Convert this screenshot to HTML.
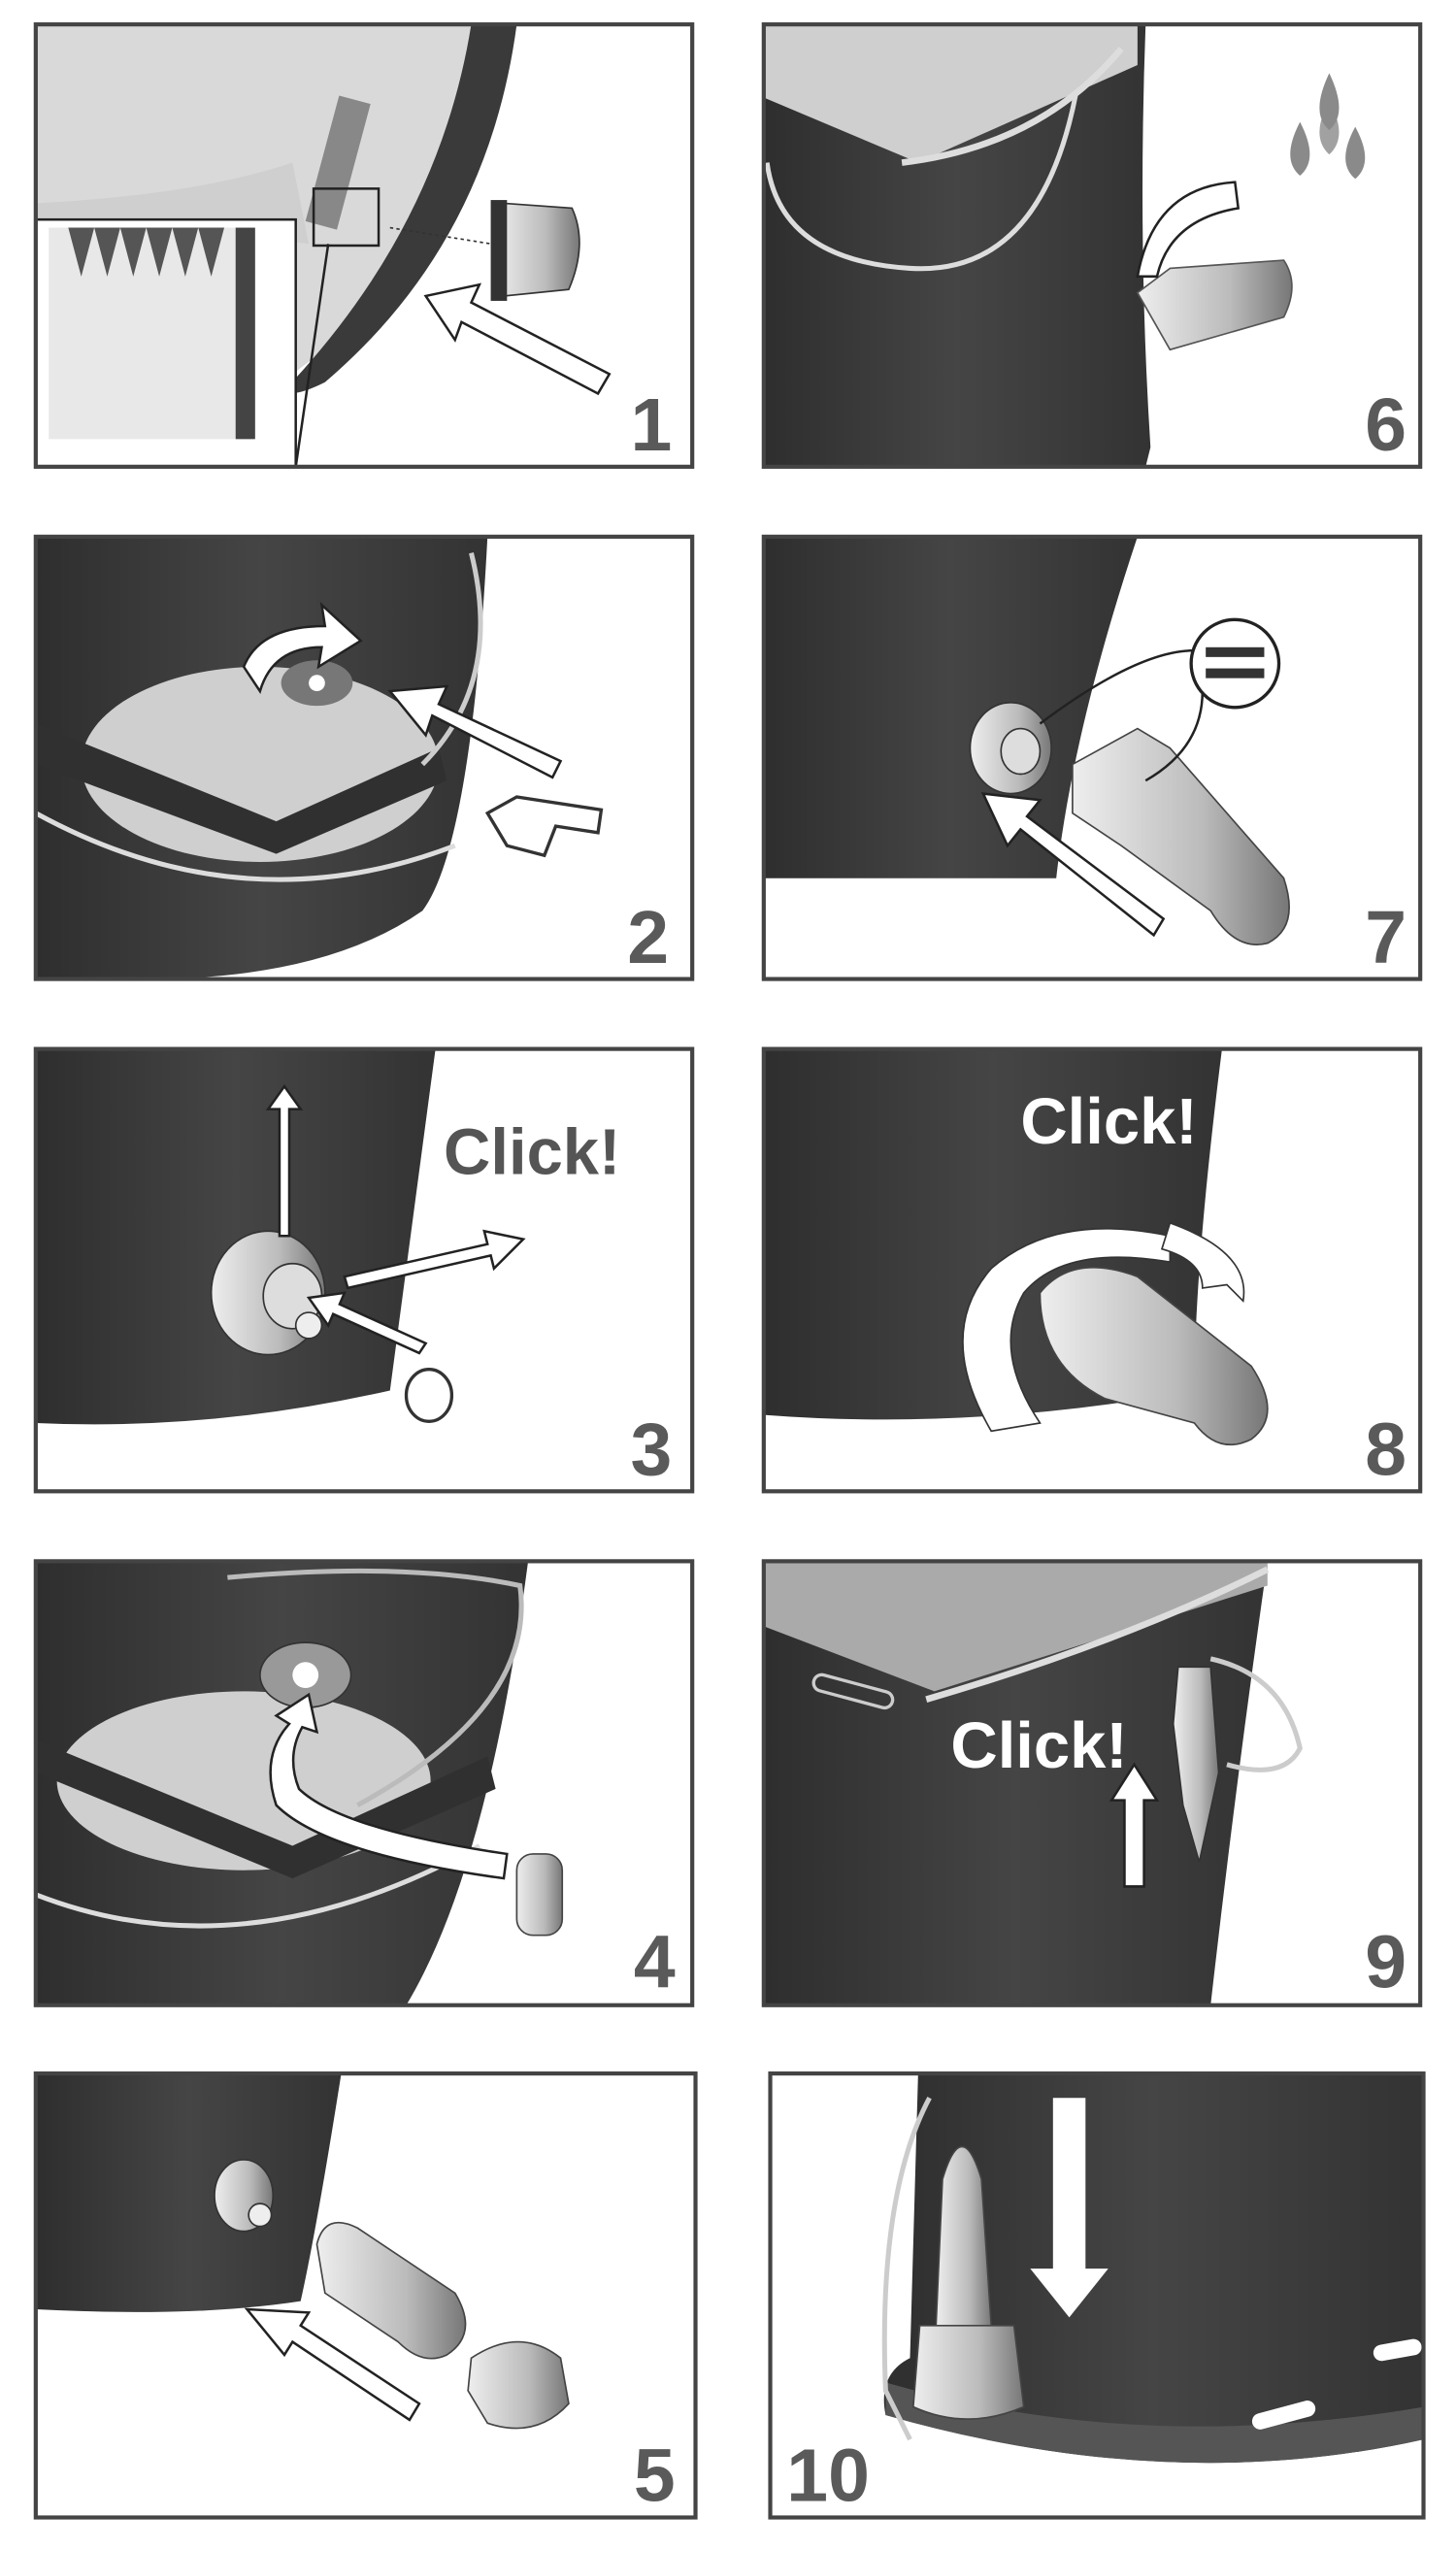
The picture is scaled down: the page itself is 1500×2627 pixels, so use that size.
<!DOCTYPE html>
<html><head><meta charset="utf-8"><style>
html,body{margin:0;padding:0;background:#fff}
svg{display:block}
.n{font-family:"Liberation Sans",sans-serif;font-weight:bold;fill:#5a5a5a;font-size:46px}
.c{font-family:"Liberation Sans",sans-serif;font-weight:bold;font-size:40px}
.fr{fill:none;stroke:#444;stroke-width:2.5}
.ar{fill:#fff;stroke:#222;stroke-width:1.5}
</style></head><body>
<svg width="1500" height="2627" viewBox="0 0 896 1568" preserveAspectRatio="none" xmlns="http://www.w3.org/2000/svg">
<defs>
<linearGradient id="dk" x1="0" x2="1"><stop offset="0" stop-color="#2e2e2e"/><stop offset=".5" stop-color="#454545"/><stop offset="1" stop-color="#333"/></linearGradient>
<linearGradient id="gr" x1="0" x2="1"><stop offset="0" stop-color="#eee"/><stop offset=".6" stop-color="#bbb"/><stop offset="1" stop-color="#777"/></linearGradient>
<clipPath id="p1"><rect x="22" y="15" width="404" height="272"/></clipPath>
<clipPath id="p2"><rect x="22" y="330" width="404" height="272"/></clipPath>
<clipPath id="p3"><rect x="22" y="645" width="404" height="272"/></clipPath>
<clipPath id="p4"><rect x="22" y="960" width="404" height="273"/></clipPath>
<clipPath id="p5"><rect x="22" y="1275" width="406" height="273"/></clipPath>
<clipPath id="p6"><rect x="470" y="15" width="404" height="272"/></clipPath>
<clipPath id="p7"><rect x="470" y="330" width="404" height="272"/></clipPath>
<clipPath id="p8"><rect x="470" y="645" width="404" height="272"/></clipPath>
<clipPath id="p9"><rect x="470" y="960" width="404" height="273"/></clipPath>
<clipPath id="p10"><rect x="474" y="1275" width="402" height="273"/></clipPath>
</defs>

<!-- Panel 1 -->
<g clip-path="url(#p1)">
<rect x="22" y="15" width="404" height="272" fill="#fff"/>
<path d="M22 15 H300 Q280 130 200 215 L180 230 L22 140 Z" fill="#d9d9d9"/>
<path d="M290 15 H318 Q300 150 200 235 Q180 245 175 240 Q270 140 290 15Z" fill="#3a3a3a"/>
<path d="M22 125 Q120 120 180 100 L190 150 Q120 140 22 140Z" fill="#cfcfcf"/>
<rect x="198" y="60" width="20" height="80" fill="#888" transform="rotate(15 208 100)"/>
<rect x="193" y="116" width="40" height="35" fill="none" stroke="#222" stroke-width="1.5"/>
<rect x="22" y="135" width="160" height="152" fill="#fff" stroke="#222" stroke-width="1.5"/>
<rect x="30" y="140" width="125" height="130" fill="#e8e8e8"/>
<path d="M42 140 L50 170 L58 140 L66 170 L74 140 L82 170 L90 140 L98 170 L106 140 L114 170 L122 140 L130 170 L138 140Z" fill="#555"/>
<rect x="145" y="140" width="12" height="130" fill="#444"/>
<line x1="182" y1="287" x2="202" y2="150" stroke="#222" stroke-width="1.5"/>
<line x1="240" y1="140" x2="315" y2="152" stroke="#333" stroke-dasharray="2 2"/>
<path d="M310 125 L352 128 Q362 150 350 178 L310 182 Q300 150 310 125Z" fill="url(#gr)" stroke="#333"/>
<rect x="302" y="123" width="10" height="62" fill="#333"/>
<path class="ar" d="M375 230 L290 186 L295 175 L262 182 L280 209 L284 198 L368 242Z"/>
<text class="n" x="388" y="277">1</text>
</g>
<rect class="fr" x="22" y="15" width="404" height="272"/>

<!-- Panel 6 -->
<g clip-path="url(#p6)">
<rect x="470" y="15" width="404" height="272" fill="#fff"/>
<path d="M470 15 H705 Q700 150 708 275 L705 287 H470Z" fill="url(#dk)"/>
<path d="M470 15 H700 V40 L565 100 L470 60Z" fill="#cfcfcf"/>
<path d="M555 100 Q640 90 690 30" fill="none" stroke="#ddd" stroke-width="4"/>
<path d="M662 58 Q640 170 560 165 Q480 160 472 100" fill="none" stroke="#ddd" stroke-width="3"/>
<path d="M700 180 L720 215 L790 195 Q800 175 790 160 L720 165Z" fill="url(#gr)" stroke="#555"/>
<path class="ar" d="M760 112 Q710 115 700 170 L712 170 Q720 135 762 128Z" />
<g fill="#8a8a8a"><path d="M818 45 Q830 70 818 80 Q806 70 818 45Z"/><path d="M800 75 Q812 98 800 108 Q788 98 800 75Z"/><path d="M834 78 Q846 100 834 110 Q822 100 834 78Z"/><path d="M818 62 Q830 84 818 95 Q806 84 818 62Z" opacity=".8"/></g>
<text class="n" x="840" y="277">6</text>
</g>
<rect class="fr" x="470" y="15" width="404" height="272"/>

<!-- Panel 2 -->
<g clip-path="url(#p2)">
<rect x="22" y="330" width="404" height="272" fill="#fff"/>
<path d="M22 330 H300 Q290 520 260 560 Q200 602 90 602 H22Z" fill="url(#dk)"/>
<ellipse cx="160" cy="470" rx="110" ry="60" fill="#cfcfcf"/>
<path d="M22 445 L170 505 L270 460 L275 480 L170 525 L22 470Z" fill="#303030"/>
<path d="M22 500 Q150 570 280 520" fill="none" stroke="#ddd" stroke-width="3"/>
<path d="M290 340 Q310 420 260 470" fill="none" stroke="#ccc" stroke-width="3"/>
<ellipse cx="195" cy="420" rx="22" ry="14" fill="#777"/>
<circle cx="195" cy="420" r="5" fill="#fff"/>
<path class="ar" d="M150 410 Q160 385 200 385 L198 372 L222 394 L196 410 L198 398 Q168 398 160 425Z"/>
<path class="ar" d="M340 478 L266 440 L262 452 L240 425 L275 422 L270 433 L345 468Z"/>
<path d="M300 500 L318 490 L370 498 L368 512 L342 508 L335 526 L312 520Z" fill="#fff" stroke="#333" stroke-width="2"/>
<text class="n" x="386" y="592">2</text>
</g>
<rect class="fr" x="22" y="330" width="404" height="272"/>

<!-- Panel 7 -->
<g clip-path="url(#p7)">
<rect x="470" y="330" width="404" height="272" fill="#fff"/>
<path d="M470 330 H700 Q660 450 650 540 H470Z" fill="url(#dk)"/>
<ellipse cx="622" cy="460" rx="25" ry="28" fill="url(#gr)" stroke="#333"/>
<ellipse cx="628" cy="462" rx="12" ry="14" fill="#ddd" stroke="#333"/>
<path d="M660 470 L700 448 L720 460 L790 540 Q800 570 780 580 Q760 585 745 560 L690 520 L660 500Z" fill="url(#gr)" stroke="#444"/>
<path d="M640 445 Q700 400 735 400" fill="none" stroke="#222" stroke-width="1.5"/>
<path d="M705 480 Q740 460 740 425" fill="none" stroke="#222" stroke-width="1.5"/>
<circle cx="760" cy="408" r="27" fill="#fff" stroke="#222" stroke-width="2"/>
<rect x="742" y="398" width="36" height="6" fill="#333"/><rect x="742" y="411" width="36" height="6" fill="#333"/>
<path class="ar" d="M710 575 L628 510 L620 520 L605 488 L640 492 L632 502 L716 565Z"/>
<text class="n" x="840" y="592">7</text>
</g>
<rect class="fr" x="470" y="330" width="404" height="272"/>

<!-- Panel 3 -->
<g clip-path="url(#p3)">
<rect x="22" y="645" width="404" height="272" fill="#fff"/>
<path d="M22 645 H268 Q250 780 240 855 Q130 880 22 875Z" fill="url(#dk)"/>
<ellipse cx="165" cy="795" rx="35" ry="38" fill="url(#gr)" stroke="#333"/>
<ellipse cx="180" cy="797" rx="18" ry="20" fill="#ddd" stroke="#333"/>
<circle cx="190" cy="815" r="8" fill="#eee" stroke="#333"/>
<path class="ar" d="M172 760 V682 H165 L175 668 L185 682 H178 V760Z"/>
<path class="ar" d="M212 785 L300 765 L298 757 L322 762 L304 780 L302 772 L214 792Z"/>
<path class="ar" d="M258 832 L205 808 L202 815 L190 798 L212 795 L209 802 L262 826Z"/>
<ellipse cx="264" cy="858" rx="14" ry="16" fill="#fff" stroke="#333" stroke-width="2"/>
<text class="c" x="273" y="722" fill="#555">Click!</text>
<text class="n" x="388" y="907">3</text>
</g>
<rect class="fr" x="22" y="645" width="404" height="272"/>

<!-- Panel 8 -->
<g clip-path="url(#p8)">
<rect x="470" y="645" width="404" height="272" fill="#fff"/>
<path d="M470 645 H752 Q735 780 735 855 Q600 880 470 870Z" fill="url(#dk)"/>
<path d="M610 880 Q575 820 610 780 Q650 745 720 760 L720 776 Q655 765 630 795 Q610 830 640 875Z" fill="#fff" stroke="#333"/>
<path d="M720 752 Q770 770 765 800 L755 790 L740 792 Q740 775 715 768Z" fill="#fff" stroke="#333"/>
<path d="M640 795 Q660 770 700 785 L770 840 Q790 870 770 885 Q750 895 735 875 L680 860 Q640 840 640 795Z" fill="url(#gr)" stroke="#444"/>
<text class="c" x="628" y="703" fill="#fff">Click!</text>
<text class="n" x="840" y="907">8</text>
</g>
<rect class="fr" x="470" y="645" width="404" height="272"/>

<!-- Panel 4 -->
<g clip-path="url(#p4)">
<rect x="22" y="960" width="404" height="273" fill="#fff"/>
<path d="M22 960 H325 Q300 1150 250 1233 H22Z" fill="url(#dk)"/>
<ellipse cx="150" cy="1095" rx="115" ry="55" fill="#cfcfcf"/>
<path d="M22 1070 L180 1135 L300 1080 L305 1100 L180 1155 L22 1090Z" fill="#303030"/>
<path d="M22 1165 Q150 1215 295 1135" fill="none" stroke="#ddd" stroke-width="3"/>
<path d="M140 970 Q250 960 320 975 Q330 1050 220 1110" fill="none" stroke="#bbb" stroke-width="3"/>
<ellipse cx="188" cy="1030" rx="28" ry="20" fill="#999" stroke="#333"/>
<circle cx="188" cy="1030" r="8" fill="#fff"/>
<path class="ar" d="M310 1155 Q200 1140 170 1110 Q160 1080 178 1060 L170 1055 L190 1042 L195 1065 L186 1062 Q176 1080 184 1100 Q210 1125 312 1140Z"/>
<rect x="318" y="1140" width="28" height="50" rx="10" fill="url(#gr)" stroke="#444"/>
<text class="n" x="390" y="1222">4</text>
</g>
<rect class="fr" x="22" y="960" width="404" height="273"/>

<!-- Panel 9 -->
<g clip-path="url(#p9)">
<rect x="470" y="960" width="404" height="273" fill="#fff"/>
<path d="M470 960 H780 Q760 1100 745 1233 H470Z" fill="url(#dk)"/>
<path d="M470 960 H780 V975 L575 1040 L470 1000Z" fill="#aaa"/>
<path d="M570 1045 Q690 1010 780 965" fill="none" stroke="#ddd" stroke-width="4"/>
<path d="M745 1020 Q790 1030 800 1075 Q790 1095 755 1085" fill="none" stroke="#ccc" stroke-width="3"/>
<path d="M725 1025 L745 1025 L750 1090 L738 1145 L728 1110 L722 1060Z" fill="url(#gr)" stroke="#333"/>
<rect x="500" y="1035" width="50" height="10" rx="5" fill="none" stroke="#ccc" stroke-width="2" transform="rotate(15 525 1040)"/>
<path class="ar" d="M692 1160 V1107 H684 L698 1085 L712 1107 H704 V1160Z"/>
<text class="c" x="585" y="1087" fill="#fff">Click!</text>
<text class="n" x="840" y="1222">9</text>
</g>
<rect class="fr" x="470" y="960" width="404" height="273"/>

<!-- Panel 5 -->
<g clip-path="url(#p5)">
<rect x="22" y="1275" width="406" height="273" fill="#fff"/>
<path d="M22 1275 H210 Q195 1370 185 1415 Q120 1425 22 1420Z" fill="url(#dk)"/>
<ellipse cx="150" cy="1350" rx="18" ry="22" fill="url(#gr)" stroke="#333"/>
<circle cx="160" cy="1362" r="7" fill="#eee" stroke="#333"/>
<path d="M195 1380 Q200 1360 220 1370 L280 1410 Q295 1435 275 1448 Q260 1455 245 1440 L200 1410Z" fill="url(#gr)" stroke="#444"/>
<path d="M290 1450 Q320 1430 345 1450 L350 1478 Q330 1500 300 1490 L288 1470Z" fill="url(#gr)" stroke="#444"/>
<path class="ar" d="M252 1488 L180 1440 L175 1448 L152 1420 L190 1422 L185 1430 L258 1478Z"/>
<text class="n" x="390" y="1538">5</text>
</g>
<rect class="fr" x="22" y="1275" width="406" height="273"/>

<!-- Panel 10 -->
<g clip-path="url(#p10)">
<rect x="474" y="1275" width="402" height="273" fill="#fff"/>
<path d="M565 1275 H876 V1500 Q720 1535 545 1485 Q540 1460 560 1450Z" fill="url(#dk)"/>
<path d="M545 1465 Q700 1510 876 1480 V1500 Q720 1535 545 1485Z" fill="#555"/>
<path d="M572 1290 Q540 1350 545 1470 L560 1500" fill="none" stroke="#ccc" stroke-width="3"/>
<path d="M580 1340 Q592 1300 604 1340 L610 1430 H576Z" fill="url(#gr)" stroke="#444"/>
<path d="M566 1430 H624 L630 1480 Q595 1495 562 1480Z" fill="url(#gr)" stroke="#444"/>
<path d="M648 1290 H668 V1395 H682 L658 1425 L634 1395 H648Z" fill="#fff"/>
<rect x="770" y="1480" width="40" height="10" rx="5" fill="#fff" transform="rotate(-15 790 1485)"/>
<rect x="845" y="1440" width="30" height="10" rx="5" fill="#fff" transform="rotate(-10 860 1445)"/>
<text class="n" x="484" y="1538">10</text>
</g>
<rect class="fr" x="474" y="1275" width="402" height="273"/>
</svg>
</body></html>
